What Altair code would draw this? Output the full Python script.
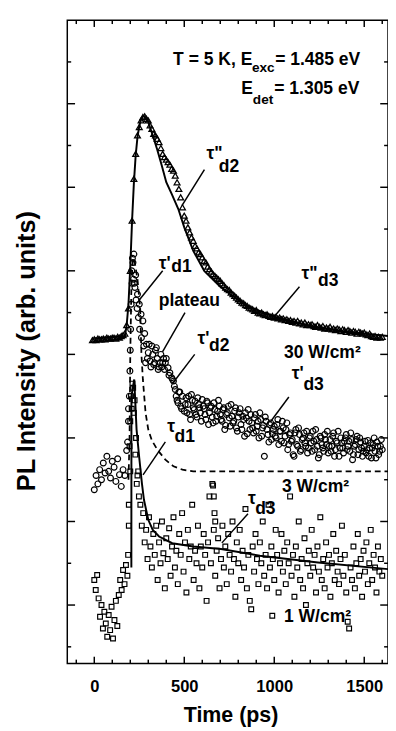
import altair as alt
import pandas as pd

# ---------------- data ----------------
t30 = list(range(-10, 1601, 10))
v30 = [4.17, 4.18, 4.17, 4.19, 4.18, 4.18, 4.19, 4.18, 4.20, 4.19,
       4.19, 4.20, 4.20, 4.19, 4.21, 4.20, 4.22, 4.23, 4.25, 4.35,
       4.55, 5.00, 5.60, 6.10, 6.40, 6.62, 6.72, 6.80, 6.84, 6.85,
       6.82, 6.80, 6.74, 6.70, 6.64, 6.62, 6.58, 6.54, 6.47, 6.40,
       6.36, 6.33, 6.30, 6.27, 6.22, 6.20, 6.14, 6.06, 5.98, 5.88,
       5.76, 5.66, 5.60, 5.52, 5.46, 5.40, 5.36, 5.30, 5.27, 5.22,
       5.20, 5.16, 5.12, 5.10, 5.05, 5.02, 4.99, 4.96, 4.94, 4.92,
       4.90, 4.88, 4.85, 4.83, 4.80, 4.78, 4.77, 4.74, 4.72, 4.70,
       4.68, 4.66, 4.64, 4.62, 4.61, 4.59, 4.58, 4.56, 4.55, 4.54,
       4.52, 4.53, 4.50, 4.49, 4.50, 4.48, 4.47, 4.48, 4.46, 4.45,
       4.46, 4.44, 4.45, 4.43, 4.44, 4.42, 4.43, 4.41, 4.42, 4.40,
       4.41, 4.39, 4.40, 4.38, 4.40, 4.37, 4.38, 4.36, 4.38, 4.35,
       4.36, 4.35, 4.36, 4.34, 4.33, 4.35, 4.33, 4.32, 4.34, 4.31,
       4.32, 4.31, 4.33, 4.30, 4.31, 4.29, 4.31, 4.30, 4.28, 4.30,
       4.29, 4.27, 4.29, 4.28, 4.26, 4.28, 4.27, 4.25, 4.27, 4.26,
       4.25, 4.26, 4.24, 4.23, 4.25, 4.22, 4.21, 4.22, 4.20, 4.21,
       4.20, 4.21]

fit30_t = [0, 170, 180, 190, 200, 210, 220, 230, 240, 250, 260, 270, 280,
           300, 325, 350, 375, 400, 430, 467, 500, 550, 611, 700, 845,
           1000, 1200, 1400, 1632]
fit30_v = [4.19, 4.22, 4.35, 4.60, 5.05, 5.60, 6.05, 6.38, 6.60, 6.73, 6.81,
           6.85, 6.85, 6.78, 6.62, 6.45, 6.26, 6.06, 5.92, 5.74, 5.52, 5.24,
           5.00, 4.81, 4.58, 4.45, 4.34, 4.27, 4.22]

t3 = list(range(0, 1601, 10))
v3 = [2.38, 2.55, 2.45, 2.62, 2.50, 2.70, 2.58, 2.78, 2.60, 2.52,
      2.72, 2.65, 2.48, 2.75, 2.56, 2.42, 2.62, 2.55, 2.85, 3.35,
      4.05, 4.85, 5.20, 4.95, 4.72, 4.60, 4.48, 4.40, 4.25, 4.12,
      4.02, 3.92, 4.10, 3.88, 4.05, 3.95, 3.85, 4.00, 3.90, 3.82,
      3.95, 3.84, 3.78, 3.72, 3.68, 3.58, 3.45, 3.55, 3.38, 3.50,
      3.32, 3.48, 3.40, 3.28, 3.52, 3.36, 3.44, 3.25, 3.40, 3.30,
      3.46, 3.35, 3.22, 3.42, 3.30, 3.38, 3.18, 3.34, 3.26, 3.45,
      3.28, 3.20, 3.36, 3.15, 3.30, 3.24, 3.40, 3.18, 3.32, 3.12,
      3.25, 3.35, 3.10, 3.22, 3.30, 3.05, 3.20, 3.28, 3.12, 3.24,
      3.08, 3.20, 3.30, 3.02, 3.15, 3.25, 3.10, 2.95, 3.18, 3.05,
      3.14, 3.00, 3.22, 3.08, 2.96, 3.12, 3.02, 3.18, 2.92, 3.06,
      2.98, 2.78, 3.10, 2.90, 3.04, 2.86, 3.00, 2.94, 3.08, 2.88,
      3.02, 2.84, 2.96, 3.10, 2.90, 2.80, 3.00, 2.88, 3.04, 2.92,
      2.82, 2.98, 2.90, 3.06, 2.86, 2.94, 2.78, 3.00, 2.88, 2.96,
      3.04, 2.90, 2.84, 2.98, 2.80, 2.92, 3.02, 2.86, 2.95, 2.78,
      2.90, 2.82, 2.97, 2.88, 2.76, 2.92, 2.84, 2.95, 2.80, 2.90,
      2.86]
t3b = list(range(505, 1600, 10))
v3b = [3.40, 3.30, 3.50, 3.22, 3.45, 3.34, 3.28, 3.48, 3.36, 3.20,
       3.38, 3.28, 3.44, 3.16, 3.36, 3.25, 3.42, 3.20, 3.32, 3.38,
       3.22, 3.34, 3.10, 3.28, 3.38, 3.14, 3.26, 3.20, 3.36, 3.08,
       3.30, 3.16, 3.26, 3.02, 3.24, 3.34, 3.10, 3.18, 3.06, 3.28,
       3.14, 3.00, 3.22, 3.12, 2.78, 3.20, 3.04, 3.16, 2.98, 3.10,
       3.02, 3.16, 2.92, 3.08, 3.20, 2.94, 3.10, 2.86, 3.04, 2.96,
       2.80, 3.06, 2.92, 3.12, 2.84, 2.98, 3.06, 2.90, 2.82, 3.00,
       2.94, 3.08, 2.86, 2.98, 2.76, 3.02, 2.92, 2.84, 2.98, 3.08,
       2.90, 2.84, 3.02, 2.78, 2.96, 3.08, 2.88, 2.94, 2.82, 3.00,
       2.86, 2.96, 3.06, 2.74, 2.90, 2.98, 2.80, 3.00, 2.88, 2.84,
       2.96, 2.86, 2.78, 2.94, 2.88, 3.00, 2.76, 2.90, 2.84, 2.98]
t3_extra = [185, 190, 195, 198, 202, 205, 208, 212, 215, 218, 222, 226, 232,
            238, 245, 252, 262, 275, 285, 295, 305, 315, 325, 335, 345, 355,
            365, 375, 385, 395, 415, 435, 445, 455, 465, 475, 485]
v3_extra = [2.95, 3.20, 3.50, 3.80, 4.30, 4.60, 5.00, 5.15, 5.10, 4.90, 4.85,
            4.80, 4.65, 4.55, 4.44, 4.30, 4.20, 4.10, 3.90, 3.95, 4.12, 3.85,
            4.00, 3.90, 4.08, 3.82, 3.90, 3.85, 3.95, 3.90, 3.75, 3.70, 3.62,
            3.50, 3.42, 3.55, 3.35]

fit3_t = [190, 196, 200, 207, 215, 225, 240, 255, 262, 270, 285, 300, 320,
          350, 395, 440, 490, 550, 1632]
fit3_v = [2.50, 3.00, 4.00, 4.90, 5.15, 5.10, 4.90, 4.55, 4.00, 3.70, 3.30,
          3.10, 2.97, 2.86, 2.74, 2.66, 2.62, 2.60, 2.60]

t1 = list(range(0, 1601, 8))
v1 = [1.30, 1.18, 1.36, 1.08, 0.86, 1.00, 0.72, 0.92, 0.78, 0.62,
      0.88, 0.70, 0.98, 0.60, 0.82, 1.05, 0.75, 1.12, 1.30, 1.18,
      1.42, 1.25, 1.48, 1.35, 1.95, 2.60, 3.35, 3.60, 3.45, 3.00,
      2.55, 2.30, 2.20, 1.95, 2.10, 1.75, 1.90, 1.55, 2.05, 1.70,
      1.45, 1.85, 1.60, 1.95, 1.30, 1.75, 1.50, 2.00, 1.62, 1.20,
      1.80, 1.55, 1.92, 1.35, 1.70, 2.05, 1.45, 1.65, 1.25, 1.85,
      1.60, 2.10, 1.40, 1.75, 1.15, 1.90, 1.55, 1.70, 2.20, 1.30,
      1.65, 1.50, 1.95, 1.20, 1.70, 1.45, 1.85, 1.60, 1.05, 1.75,
      2.30, 1.50, 2.45, 1.90, 1.35, 1.65, 1.80, 1.20, 1.55, 1.95,
      1.45, 1.70, 1.25, 1.85, 1.60, 1.40, 2.00, 1.55, 1.10, 1.75,
      1.50, 1.90, 1.30, 1.65, 1.45, 2.15, 1.20, 1.60, 1.05, 0.95,
      1.70, 1.40, 1.85, 1.55, 1.25, 1.75, 1.50, 2.00, 1.35, 1.60,
      1.20, 2.20, 1.45, 1.70, 1.55, 1.30, 1.90, 1.60, 1.15, 1.50,
      1.85, 1.40, 1.65, 1.25, 1.75, 1.50, 2.30, 1.35, 1.60, 1.10,
      1.70, 1.45, 2.00, 1.30, 1.55, 1.20, 1.80, 1.00, 1.50, 1.65,
      1.35, 1.90, 1.45, 1.60, 1.15, 1.70, 1.40, 2.05, 1.30, 1.55,
      1.20, 1.75, 1.45, 1.60, 1.10, 1.50, 1.85, 1.30, 1.65, 1.40,
      1.25, 1.55, 1.95, 1.35, 1.60, 1.15, 0.80, 0.72, 1.45, 1.30,
      1.70, 1.20, 1.50, 1.85, 1.35, 1.55, 1.10, 1.65, 1.40, 1.75,
      1.25, 1.50, 1.90, 1.30, 1.60, 1.45, 1.15, 1.70, 1.40, 1.55,
      1.35]
t1_extra = [188, 192, 196, 200, 204, 212, 220, 228, 236, 244, 660, 664, 668, 672]
v1_extra = [1.60, 2.20, 2.90, 3.20, 3.50, 3.65, 3.30, 2.80, 2.45, 2.60, 2.43, 2.30, 2.10, 2.00]

fit1_t = [206, 206.5, 222, 235, 250, 265, 276, 300, 325, 360, 433, 550, 704, 920, 1243, 1632]
fit1_v = [1.45, 3.50, 3.70, 3.10, 2.76, 2.45, 2.26, 2.02, 1.90, 1.82, 1.74, 1.70, 1.67, 1.59, 1.51, 1.43]

x_labels = [0, 500, 1000, 1500]

ann_label = ["T = 5 K, E", "exc", "= 1.485 eV", "E", "det", "= 1.305 eV",
             "τ\"", "d2", "τ'", "d1", "plateau", "τ'", "d2", "τ\"", "d3",
             "30 W/cm²", "τ'", "d3", "τ", "d1", "3 W/cm²", "τ", "d3", "1 W/cm²"]
ann_t = [438, 876, 1005, 817, 881, 1000,
         623, 692, 358, 428, 358, 573, 638, 1151, 1243,
         1054, 1097, 1162, 406, 446, 1043, 854, 894, 1054]
ann_v = [7.465, 7.384, 7.465, 7.116, 7.00, 7.116,
         6.337, 6.186, 5.023, 4.99, 4.58, 4.128, 4.035, 4.907, 4.814,
         3.953, 3.709, 3.57, 3.07, 2.953, 2.349, 2.209, 2.093, 0.802]
ann_fs = [18, 14, 18, 18, 14, 18,
          18, 18, 18, 18, 18, 18, 18, 18, 18,
          18, 18, 18, 18, 18, 18, 18, 18, 18]

arr_t1 = [612, 380, 504, 558, 1140, 1081, 395, 854]
arr_v1 = [6.21, 5.00, 4.50, 4.00, 4.81, 3.49, 2.953, 2.093]
arr_t2 = [487, 250, 379, 438, 1005, 978, 271, 709]
arr_v2 = [5.78, 4.65, 4.03, 3.66, 4.465, 3.19, 2.558, 1.744]

legend_sq_t = [989]
legend_sq_v = [0.872]

# ---------------- chart ----------------
W, H = 330, 662
FONT = "Liberation Sans"
xs = alt.Scale(domain=[-150, 1632], nice=False, zero=False)
ys = alt.Scale(domain=[0.3, 8.0], nice=False, zero=False)

x_axis = alt.Axis(title="Time (ps)", values=x_labels, format="d", grid=False,
                  ticks=False, domain=False, labelFontSize=17, labelFont=FONT,
                  labelFontWeight="bold", labelColor="black",
                  labelPadding=29, labelBaseline="alphabetic",
                  titleFontSize=22, titleFont=FONT, titleFontWeight="bold",
                  titleColor="black", titleX=168, titleY=60,
                  titleBaseline="alphabetic")
y_axis = alt.Axis(title="PL Intensity (arb. units)", labels=False, grid=False,
                  ticks=False, domain=False, titleFontSize=26, titleFont=FONT,
                  titleFontWeight="bold", titleColor="black", titleX=-34,
                  titleY=340, titleAngle=270, titleBaseline="alphabetic",
                  titleAlign="center")


def X(f):
    return alt.X(f, type="quantitative", scale=xs, axis=x_axis)


def Y(f):
    return alt.Y(f, type="quantitative", scale=ys, axis=y_axis)


df30 = pd.DataFrame({"t": t30, "v": v30})
dfit30 = pd.DataFrame({"t": fit30_t, "v": fit30_v})
df3 = pd.DataFrame({"t": t3 + t3b + t3_extra, "v": v3 + v3b + v3_extra})
dfit3 = pd.DataFrame({"t": fit3_t, "v": fit3_v})
df1 = pd.DataFrame({"t": t1 + t1_extra, "v": v1 + v1_extra})
dfit1 = pd.DataFrame({"t": fit1_t, "v": fit1_v})
dann = pd.DataFrame({"t": ann_t, "v": ann_v, "label": ann_label, "fs": ann_fs})
darr = pd.DataFrame({"t1": arr_t1, "v1": arr_v1, "t2": arr_t2, "v2": arr_v2})
dleg = pd.DataFrame({"t": legend_sq_t, "v": legend_sq_v})

xt_major = pd.DataFrame({"t": [0, 500, 1000, 1500]})
xt_minor = pd.DataFrame({"t": [-100, 100, 200, 300, 400, 600, 700, 800, 900,
                               1100, 1200, 1300, 1400, 1600]})
yt_major = pd.DataFrame({"v": [1, 2, 3, 4, 5, 6, 7]})
yt_minor = pd.DataFrame({"v": [0.5, 1.5, 2.5, 3.5, 4.5, 5.5, 6.5, 7.5]})

layers = []
for d, L in ((xt_major, 7), (xt_minor, 4)):
    layers.append(alt.Chart(d).mark_rule(color="black", strokeWidth=1.5).encode(
        x=X("t"), y=alt.value(H), y2=alt.value(H - L)))
    layers.append(alt.Chart(d).mark_rule(color="black", strokeWidth=1.5).encode(
        x=X("t"), y=alt.value(0), y2=alt.value(L)))
for d, L in ((yt_major, 8), (yt_minor, 4)):
    layers.append(alt.Chart(d).mark_rule(color="black", strokeWidth=1.5).encode(
        y=Y("v"), x=alt.value(0), x2=alt.value(L)))
    layers.append(alt.Chart(d).mark_rule(color="black", strokeWidth=1.5).encode(
        y=Y("v"), x=alt.value(W), x2=alt.value(W - L)))

layers += [
    alt.Chart(df1).mark_point(shape="square", size=24, filled=False,
                              color="black", strokeWidth=1.2, opacity=1).encode(x=X("t"), y=Y("v")),
    alt.Chart(dfit1).mark_line(color="black", strokeWidth=2).encode(x=X("t"), y=Y("v")),
    alt.Chart(df3).mark_point(shape="circle", size=36, filled=False,
                              color="black", strokeWidth=1.2, opacity=1).encode(x=X("t"), y=Y("v")),
    alt.Chart(dfit3).mark_line(color="black", strokeWidth=1.8, strokeDash=[6, 4]).encode(x=X("t"), y=Y("v")),
    alt.Chart(df30).mark_point(shape="triangle-up", size=36, filled=False,
                               color="black", strokeWidth=1.3, opacity=1).encode(x=X("t"), y=Y("v")),
    alt.Chart(dfit30).mark_line(color="black", strokeWidth=2).encode(x=X("t"), y=Y("v")),
    alt.Chart(darr).mark_rule(color="black", strokeWidth=1.5).encode(
        x=X("t1"), y=Y("v1"), x2="t2", y2="v2"),
    alt.Chart(dleg).mark_point(shape="square", size=24, filled=False,
                               color="black", strokeWidth=1.2, opacity=1).encode(x=X("t"), y=Y("v")),
    alt.Chart(dann).mark_text(align="left", baseline="alphabetic", font=FONT,
                              fontWeight="bold", color="black").encode(
        x=X("t"), y=Y("v"), text="label:N",
        size=alt.Size("fs:Q", scale=None, legend=None)),
]

chart = alt.layer(*layers).properties(
    width=W, height=H,
    padding={"left": 61, "top": 2, "right": 0, "bottom": 62},
    autosize=alt.AutoSizeParams(type="none"),
    background="white",
).configure_view(stroke="black", strokeWidth=1.5)

chart.save("out.html", embed_options={"renderer": "svg", "actions": False})
